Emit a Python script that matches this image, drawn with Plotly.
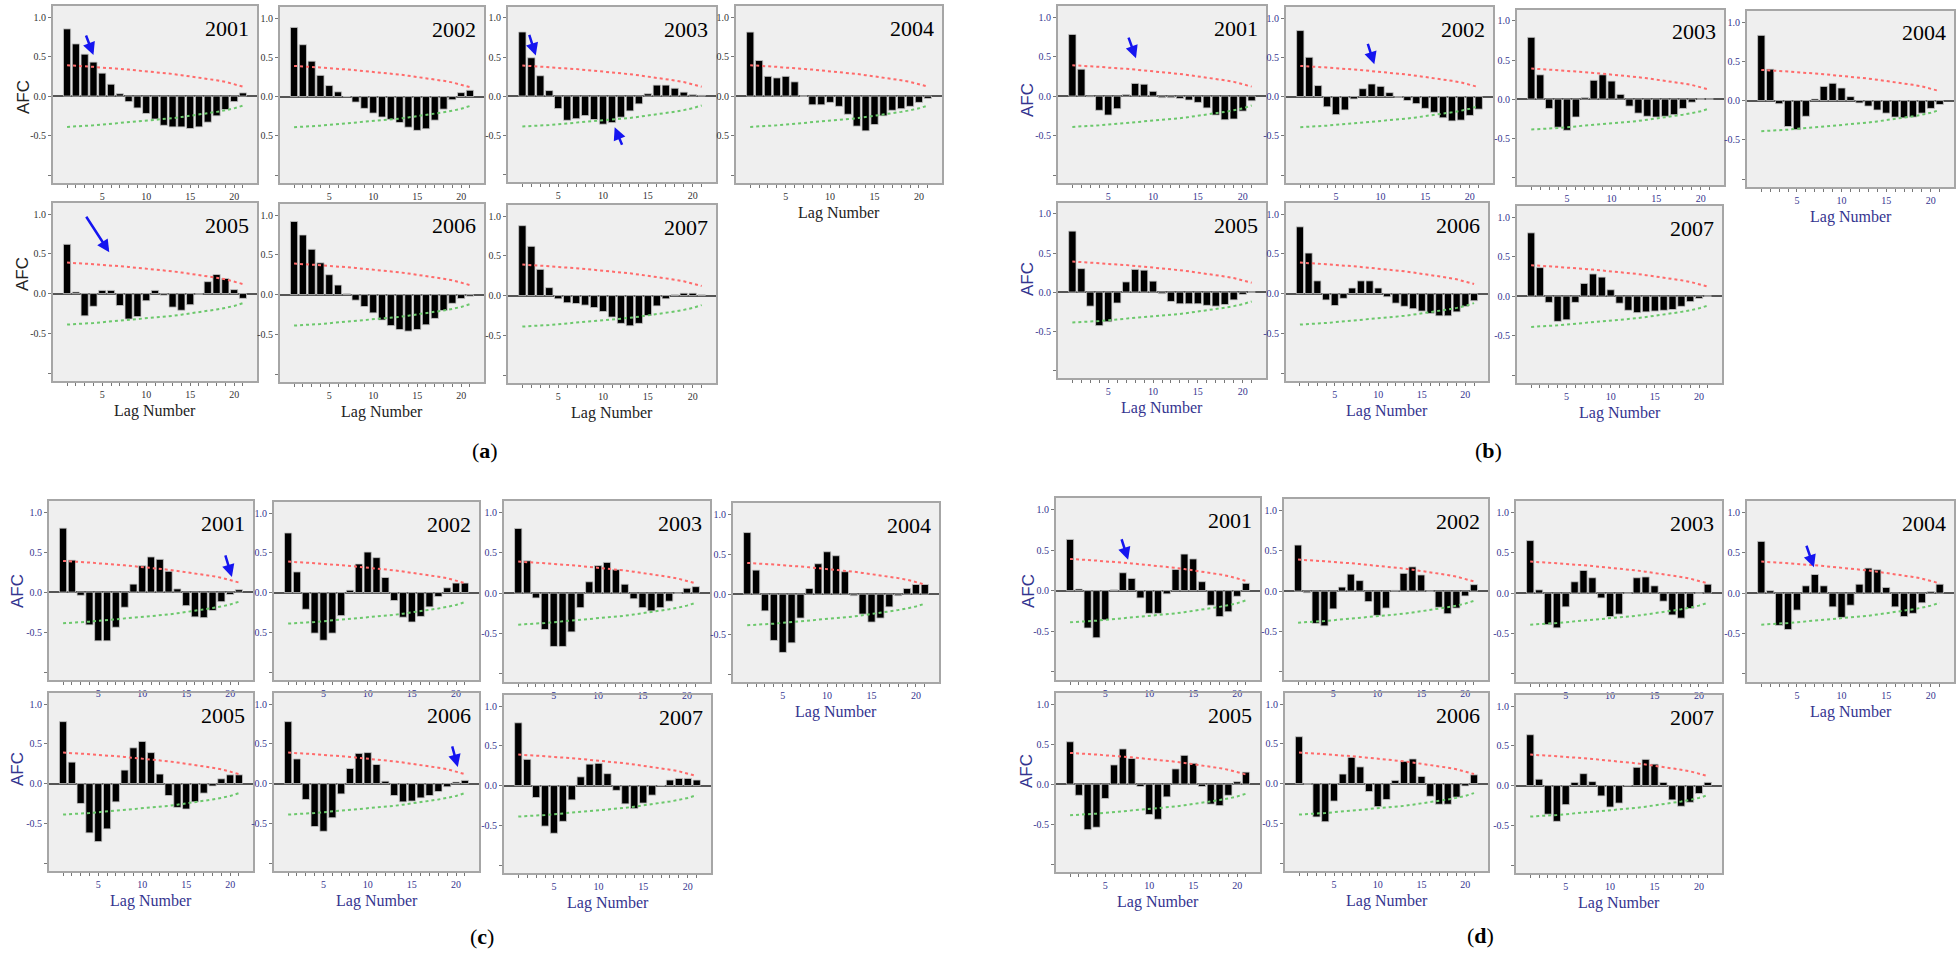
import plotly.graph_objects as go

# ---------------- data ----------------
years = ["2001", "2002", "2003", "2004", "2005", "2006", "2007"]
lags = list(range(1, 22))
lag_tick_labels = ["5", "10", "15", "20"]
y_tick_values = [-1.0, -0.5, 0.0, 0.5, 1.0]
panel_names = ["a", "b", "c", "d"]

upper_conf = [0.39, 0.385, 0.375, 0.37, 0.36, 0.355, 0.345, 0.335, 0.325, 0.315, 0.305,
              0.29, 0.28, 0.265, 0.25, 0.235, 0.22, 0.20, 0.18, 0.15, 0.12]
lower_conf = [-0.39, -0.385, -0.375, -0.37, -0.36, -0.35, -0.345, -0.335, -0.325, -0.315, -0.305,
              -0.29, -0.28, -0.265, -0.25, -0.235, -0.22, -0.20, -0.18, -0.155, -0.12]

a_2001 = [0.85, 0.66, 0.53, 0.43, 0.29, 0.15, 0.03, -0.07, -0.15, -0.22, -0.29, -0.37, -0.39, -0.39, -0.41, -0.39, -0.33, -0.25, -0.17, -0.07, 0.04]
a_2002 = [0.88, 0.66, 0.45, 0.27, 0.14, 0.06, 0.0, -0.07, -0.15, -0.21, -0.26, -0.29, -0.33, -0.39, -0.43, -0.41, -0.30, -0.16, -0.04, 0.05, 0.08]
a_2003 = [0.82, 0.49, 0.26, 0.07, -0.16, -0.31, -0.29, -0.25, -0.30, -0.36, -0.34, -0.27, -0.19, -0.10, 0.03, 0.14, 0.14, 0.10, 0.05, 0.02, 0.01]
a_2004 = [0.81, 0.45, 0.25, 0.23, 0.25, 0.18, 0.0, -0.11, -0.11, -0.08, -0.13, -0.23, -0.38, -0.44, -0.36, -0.25, -0.18, -0.16, -0.13, -0.08, -0.03]
a_2005 = [0.62, 0.02, -0.28, -0.16, 0.04, 0.04, -0.15, -0.32, -0.29, -0.09, 0.04, -0.02, -0.17, -0.21, -0.14, -0.01, 0.15, 0.24, 0.19, 0.05, -0.06]
a_2006 = [0.92, 0.75, 0.57, 0.40, 0.25, 0.12, 0.01, -0.07, -0.15, -0.23, -0.32, -0.39, -0.44, -0.46, -0.44, -0.38, -0.30, -0.20, -0.11, -0.05, -0.02]
a_2007 = [0.88, 0.62, 0.33, 0.10, -0.04, -0.09, -0.10, -0.12, -0.15, -0.20, -0.27, -0.35, -0.38, -0.35, -0.25, -0.13, -0.04, 0.01, 0.03, 0.03, 0.01]

b_2001 = [0.78, 0.34, -0.01, -0.18, -0.24, -0.16, 0.02, 0.16, 0.15, 0.06, -0.02, -0.02, -0.03, -0.05, -0.08, -0.15, -0.24, -0.30, -0.29, -0.19, -0.06]
b_2002 = [0.84, 0.50, 0.14, -0.13, -0.23, -0.17, -0.03, 0.10, 0.16, 0.13, 0.05, -0.01, -0.05, -0.09, -0.15, -0.20, -0.27, -0.31, -0.30, -0.24, -0.16]
b_2003 = [0.79, 0.31, -0.12, -0.36, -0.40, -0.23, 0.02, 0.24, 0.31, 0.23, 0.06, -0.09, -0.18, -0.22, -0.23, -0.22, -0.20, -0.12, -0.04, 0.0, 0.0]
b_2004 = [0.83, 0.40, -0.04, -0.33, -0.37, -0.20, 0.02, 0.18, 0.22, 0.16, 0.05, -0.03, -0.07, -0.12, -0.16, -0.21, -0.22, -0.21, -0.16, -0.10, -0.05]
b_2005 = [0.78, 0.30, -0.18, -0.43, -0.38, -0.14, 0.13, 0.29, 0.28, 0.14, -0.02, -0.12, -0.15, -0.15, -0.15, -0.17, -0.18, -0.16, -0.10, -0.03, 0.0]
b_2006 = [0.84, 0.51, 0.16, -0.08, -0.15, -0.06, 0.07, 0.16, 0.16, 0.07, -0.04, -0.12, -0.16, -0.19, -0.22, -0.25, -0.28, -0.28, -0.23, -0.16, -0.09]
b_2007 = [0.80, 0.36, -0.08, -0.32, -0.30, -0.08, 0.16, 0.28, 0.24, 0.08, -0.09, -0.18, -0.21, -0.20, -0.19, -0.18, -0.17, -0.13, -0.07, -0.03, 0.0]

c_2001 = [0.80, 0.40, -0.04, -0.41, -0.61, -0.61, -0.44, -0.19, 0.10, 0.33, 0.44, 0.41, 0.26, 0.04, -0.17, -0.31, -0.32, -0.23, -0.12, -0.03, 0.03]
c_2002 = [0.75, 0.26, -0.21, -0.51, -0.60, -0.51, -0.29, 0.03, 0.36, 0.51, 0.44, 0.19, -0.10, -0.31, -0.37, -0.30, -0.18, -0.05, 0.06, 0.12, 0.12]
c_2003 = [0.80, 0.40, -0.06, -0.45, -0.66, -0.66, -0.48, -0.18, 0.14, 0.34, 0.38, 0.29, 0.11, -0.07, -0.18, -0.22, -0.18, -0.10, 0.0, 0.06, 0.08]
c_2004 = [0.77, 0.30, -0.21, -0.58, -0.73, -0.61, -0.30, 0.07, 0.38, 0.53, 0.48, 0.28, -0.02, -0.25, -0.35, -0.30, -0.16, -0.02, 0.07, 0.12, 0.12]
c_2005 = [0.78, 0.27, -0.25, -0.62, -0.73, -0.57, -0.23, 0.17, 0.45, 0.53, 0.39, 0.12, -0.15, -0.30, -0.32, -0.23, -0.12, -0.03, 0.06, 0.11, 0.11]
c_2006 = [0.78, 0.31, -0.20, -0.54, -0.60, -0.43, -0.13, 0.19, 0.38, 0.39, 0.24, 0.03, -0.15, -0.23, -0.22, -0.18, -0.15, -0.10, -0.04, 0.02, 0.04]
c_2007 = [0.79, 0.33, -0.15, -0.51, -0.60, -0.45, -0.18, 0.11, 0.27, 0.28, 0.15, -0.06, -0.23, -0.29, -0.22, -0.12, 0.0, 0.07, 0.09, 0.09, 0.07]

d_2001 = [0.63, 0.02, -0.46, -0.58, -0.36, 0.01, 0.22, 0.15, -0.09, -0.28, -0.28, -0.04, 0.26, 0.45, 0.39, 0.11, -0.18, -0.32, -0.26, -0.07, 0.09]
d_2002 = [0.57, -0.02, -0.40, -0.43, -0.22, 0.05, 0.21, 0.13, -0.13, -0.30, -0.21, 0.01, 0.22, 0.30, 0.20, 0.0, -0.20, -0.28, -0.21, -0.06, 0.08]
d_2003 = [0.65, 0.04, -0.39, -0.43, -0.17, 0.14, 0.28, 0.19, -0.06, -0.29, -0.26, 0.0, 0.19, 0.20, 0.09, -0.10, -0.27, -0.31, -0.19, 0.0, 0.11]
d_2004 = [0.64, 0.03, -0.40, -0.45, -0.21, 0.09, 0.23, 0.09, -0.17, -0.30, -0.15, 0.11, 0.31, 0.29, 0.07, -0.17, -0.29, -0.25, -0.12, 0.02, 0.11]
d_2005 = [0.53, -0.14, -0.57, -0.54, -0.18, 0.24, 0.44, 0.32, -0.03, -0.38, -0.44, -0.16, 0.19, 0.36, 0.26, -0.03, -0.25, -0.27, -0.14, 0.03, 0.15]
d_2006 = [0.59, -0.01, -0.42, -0.48, -0.22, 0.12, 0.33, 0.21, -0.10, -0.29, -0.20, 0.04, 0.28, 0.31, 0.09, -0.16, -0.26, -0.26, -0.17, -0.03, 0.11]
d_2007 = [0.64, 0.08, -0.36, -0.45, -0.24, 0.04, 0.15, 0.05, -0.13, -0.27, -0.22, 0.0, 0.23, 0.33, 0.27, 0.04, -0.18, -0.26, -0.21, -0.10, 0.04]

series = {
    "a": [a_2001, a_2002, a_2003, a_2004, a_2005, a_2006, a_2007],
    "b": [b_2001, b_2002, b_2003, b_2004, b_2005, b_2006, b_2007],
    "c": [c_2001, c_2002, c_2003, c_2004, c_2005, c_2006, c_2007],
    "d": [d_2001, d_2002, d_2003, d_2004, d_2005, d_2006, d_2007],
}

# arrows: (panel, year index, lag, value at tip, tail offset px x, tail offset px y)
arrows = [
    ("a", 0, 4.0, 0.52, -8, -21),
    ("a", 2, 2.5, 0.52, -7, -22),
    ("a", 2, 11.3, -0.40, 8, 19),
    ("a", 4, 5.8, 0.52, -24, -37),
    ("b", 0, 8.1, 0.48, -8, -22),
    ("b", 1, 9.3, 0.41, -7, -22),
    ("c", 0, 20.2, 0.19, -7, -23),
    ("c", 5, 20.2, 0.21, -6, -22),
    ("d", 0, 7.6, 0.38, -7, -22),
    ("d", 3, 6.9, 0.32, -8, -23),
]

# ---------------- layout geometry (pixels) ----------------
W, H = 1960, 953
frames = {
    "a": [(53, 257, 6, 183), (280, 484, 7, 183), (508, 716, 7, 182), (736, 942, 6, 183),
          (53, 257, 203, 381), (280, 484, 204, 382), (508, 716, 205, 383)],
    "b": [(1058, 1266, 6, 183), (1286, 1493, 7, 183), (1517, 1724, 10, 185), (1747, 1954, 11, 187),
          (1058, 1266, 203, 378), (1286, 1488, 203, 381), (1517, 1722, 206, 383)],
    "c": [(49, 253, 501, 680), (274, 479, 502, 680), (504, 710, 501, 682), (733, 939, 503, 682),
          (49, 253, 693, 871), (274, 479, 693, 871), (504, 711, 695, 873)],
    "d": [(1056, 1260, 498, 680), (1284, 1488, 499, 680), (1516, 1722, 501, 682), (1747, 1954, 501, 682),
          (1056, 1260, 693, 872), (1285, 1488, 693, 871), (1516, 1722, 695, 873)],
}
afc_pos = {"a": [(23, 97), (23, 274)], "b": [(1027, 100), (1027, 279)],
           "c": [(17, 591), (17, 769)], "d": [(1028, 591), (1026, 771)]}
panel_label_pos = {"a": (485, 450), "b": (1488, 450), "c": (482, 936), "d": (1480, 935)}
no_minus = {("a", 1), ("a", 3), ("c", 1)}

NAVY = "#34348f"
label_color = {"a": "#222222", "b": NAVY, "c": NAVY, "d": NAVY}
tick_color = {"a": "#333333", "b": NAVY, "c": NAVY, "d": NAVY}

XR = [-0.6, 22.6]
YR = [-1.1, 1.14]


def px(x):
    return x / W


def py(y):
    return 1 - y / H


fig = go.Figure()
layout = dict(width=W, height=H, margin=dict(l=0, r=0, t=0, b=0),
              paper_bgcolor="white", plot_bgcolor="#efefef", showlegend=False)
annotations = []

idx = 0
for p in panel_names:
    for k, yr in enumerate(years):
        idx += 1
        xa = "x" if idx == 1 else f"x{idx}"
        ya = "y" if idx == 1 else f"y{idx}"
        x0, x1, y0, y1 = frames[p][k]
        vals = series[p][k]
        fig.add_trace(go.Bar(x=lags, y=vals, xaxis=xa, yaxis=ya, width=0.82,
                             marker=dict(color="black", line=dict(color="#c8c8c8", width=0.8)),
                             hoverinfo="x+y"))
        fig.add_trace(go.Scatter(x=lags, y=upper_conf, xaxis=xa, yaxis=ya, mode="lines",
                                 line=dict(color="#ff6b6b", width=2, dash="dot"), hoverinfo="skip"))
        fig.add_trace(go.Scatter(x=lags, y=lower_conf, xaxis=xa, yaxis=ya, mode="lines",
                                 line=dict(color="#6cc86c", width=2, dash="dot"), hoverinfo="skip"))
        tfont = dict(family="Liberation Serif", size=10, color=tick_color[p])
        xt = [str(v) if str(v) in lag_tick_labels else "" for v in lags]
        yt = []
        for v in y_tick_values:
            if v == -1.0:
                yt.append("")
            elif v == -0.5 and (p, k) in no_minus:
                yt.append("0.5")
            else:
                yt.append(f"{v:.1f}")
        layout["xaxis" if idx == 1 else f"xaxis{idx}"] = dict(
            domain=[px(x0), px(x1)], anchor=ya, range=XR, tickmode="array",
            tickvals=lags, ticktext=xt, ticks="outside", ticklen=3, tickwidth=1,
            tickcolor="#777", tickfont=tfont, showgrid=False, zeroline=False,
            showline=True, mirror=True, linecolor="#a6a6a6", linewidth=2, fixedrange=True)
        layout["yaxis" if idx == 1 else f"yaxis{idx}"] = dict(
            domain=[py(y1), py(y0)], anchor=xa, range=YR, tickmode="array",
            tickvals=y_tick_values, ticktext=yt, ticks="outside", ticklen=3, tickwidth=1,
            tickcolor="#777", tickfont=tfont, showgrid=False, zeroline=True,
            zerolinecolor="#555555", zerolinewidth=2,
            showline=True, mirror=True, linecolor="#a6a6a6", linewidth=2, fixedrange=True)
        # year label
        annotations.append(dict(x=px(x1 - 6), y=py(y0 + 22), xref="paper", yref="paper",
                                text=yr, showarrow=False, xanchor="right", yanchor="middle",
                                font=dict(family="Liberation Serif", size=22, color="black")))
        # Lag Number under bottom of each column
        if k >= 3:
            annotations.append(dict(x=px((x0 + x1) / 2), y=py(y1 + 30), xref="paper", yref="paper",
                                    text="Lag Number", showarrow=False, xanchor="center",
                                    yanchor="middle",
                                    font=dict(family="Liberation Serif", size=16,
                                              color=label_color[p])))
        # arrows
        for (ap, ak, alag, aval, axo, ayo) in arrows:
            if ap == p and ak == k:
                annotations.append(dict(x=alag, y=aval, xref=xa, yref=ya, ax=axo, ay=ayo,
                                        showarrow=True, arrowhead=2, arrowsize=1,
                                        arrowwidth=2.5, arrowcolor="#1515f0", text=""))
    for (ax_, ay_) in afc_pos[p]:
        annotations.append(dict(x=px(ax_), y=py(ay_), xref="paper", yref="paper", text="AFC",
                                showarrow=False, textangle=-90, xanchor="center", yanchor="middle",
                                font=dict(family="Liberation Sans", size=17,
                                          color=label_color[p])))
    lx, ly = panel_label_pos[p]
    annotations.append(dict(x=px(lx), y=py(ly), xref="paper", yref="paper",
                            text=f"(<b>{p}</b>)", showarrow=False, xanchor="center",
                            yanchor="middle",
                            font=dict(family="Liberation Serif", size=22, color="black")))

layout["annotations"] = annotations
fig.update_layout(**layout)
fig.write_html("out.html", config={"displayModeBar": False},
               post_script="document.body.style.margin='0px';")
